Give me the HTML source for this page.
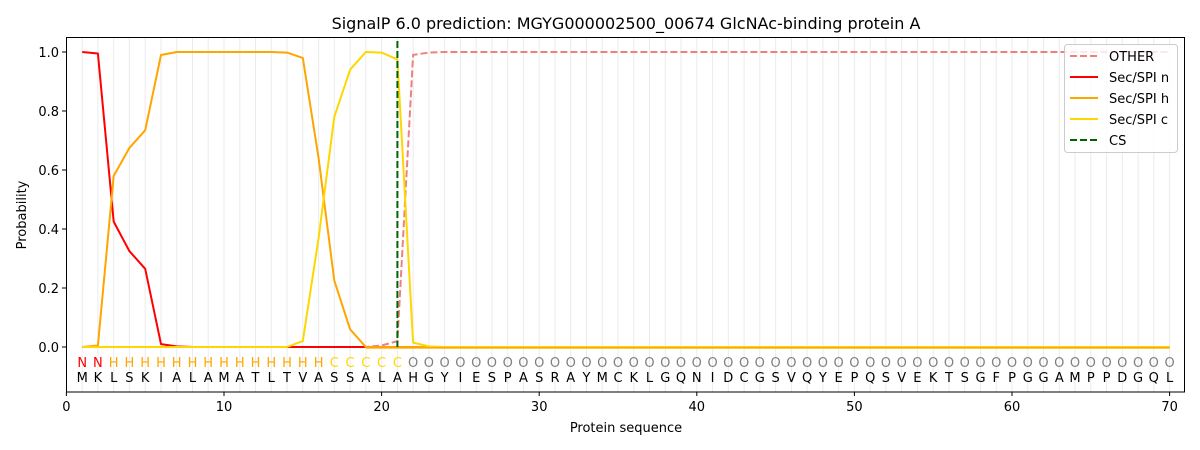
<!DOCTYPE html>
<html><head><meta charset="utf-8"><style>body{margin:0;background:#fff}svg{display:block;font-family:"DejaVu Sans","Liberation Sans",sans-serif}</style></head><body>
<svg width="1200" height="450" viewBox="0 0 1200 450" xmlns="http://www.w3.org/2000/svg">
<rect width="1200" height="450" fill="#fff"/>
<text x="626" y="29" font-size="16" text-anchor="middle">SignalP 6.0 prediction: MGYG000002500_00674 GlcNAc-binding protein A</text>
<g stroke="#ebebeb" stroke-width="1">
<path d="M82.2 38V392M97.9 38V392M113.7 38V392M129.4 38V392M145.2 38V392M161 38V392M176.7 38V392M192.5 38V392M208.2 38V392M224 38V392M239.8 38V392M255.5 38V392M271.3 38V392M287 38V392M302.8 38V392M318.6 38V392M334.3 38V392M350.1 38V392M365.8 38V392M381.6 38V392M397.4 38V392M413.1 38V392M428.9 38V392M444.6 38V392M460.4 38V392M476.2 38V392M491.9 38V392M507.7 38V392M523.4 38V392M539.2 38V392M555 38V392M570.7 38V392M586.5 38V392M602.2 38V392M618 38V392M633.8 38V392M649.5 38V392M665.3 38V392M681 38V392M696.8 38V392M712.6 38V392M728.3 38V392M744.1 38V392M759.8 38V392M775.6 38V392M791.4 38V392M807.1 38V392M822.9 38V392M838.6 38V392M854.4 38V392M870.2 38V392M885.9 38V392M901.7 38V392M917.4 38V392M933.2 38V392M949 38V392M964.7 38V392M980.5 38V392M996.2 38V392M1012 38V392M1027.8 38V392M1043.5 38V392M1059.3 38V392M1075 38V392M1090.8 38V392M1106.6 38V392M1122.3 38V392M1138.1 38V392M1153.8 38V392M1169.6 38V392"/>
</g>
<g fill="none" stroke-width="2" stroke-linejoin="round">
<polyline stroke="#f08080" stroke-dasharray="7,3" points="82.2,347 365.8,347 381.6,345.5 397.4,341.1 413.1,54.9 428.9,52.6 444.6,52 1169.6,52"/>
<polyline stroke="#ff0000" points="82.2,52 97.9,53.5 113.7,221.6 129.4,251.1 145.2,268.8 161,344.1 176.7,346.4 192.5,347 1169.6,347"/>
<polyline stroke="#ffa500" points="82.2,347 97.9,345.5 113.7,175.9 129.4,147.9 145.2,130.2 161,55 176.7,52 271.3,52 287,52.6 302.8,57.9 318.6,158.2 334.3,280.6 350.1,329.3 365.8,347 1169.6,347"/>
<polyline stroke="#ffd700" points="82.2,347 287,347 302.8,341.1 318.6,237.9 334.3,116.9 350.1,69.7 365.8,52 381.6,52.6 397.4,59.4 413.1,342.6 428.9,346.4 444.6,347 1169.6,347"/>
<line x1="365.8" y1="347.8" x2="1169.6" y2="347.8" stroke="#ffa500" stroke-width="1.6"/>
<line x1="397.4" y1="41" x2="397.4" y2="347" stroke="#006400" stroke-dasharray="7,3"/>
</g>
<g font-size="13" text-anchor="middle">
<text y="367"><tspan fill="#ff0000" x="82.2 97.9">NN</tspan><tspan fill="#ffa500" x="113.7 129.4 145.2 161 176.7 192.5 208.2 224 239.8 255.5 271.3 287 302.8 318.6">HHHHHHHHHHHHHH</tspan><tspan fill="#ffd700" x="334.3 350.1 365.8 381.6 397.4">CCCCC</tspan><tspan fill="#808080" x="413.1 428.9 444.6 460.4 476.2 491.9 507.7 523.4 539.2 555 570.7 586.5 602.2 618 633.8 649.5 665.3 681 696.8 712.6 728.3 744.1 759.8 775.6 791.4 807.1 822.9 838.6 854.4 870.2 885.9 901.7 917.4 933.2 949 964.7 980.5 996.2 1012 1027.8 1043.5 1059.3 1075 1090.8 1106.6 1122.3 1138.1 1153.8 1169.6">OOOOOOOOOOOOOOOOOOOOOOOOOOOOOOOOOOOOOOOOOOOOOOOOO</tspan></text>
<text y="382" x="82.2 97.9 113.7 129.4 145.2 161 176.7 192.5 208.2 224 239.8 255.5 271.3 287 302.8 318.6 334.3 350.1 365.8 381.6 397.4 413.1 428.9 444.6 460.4 476.2 491.9 507.7 523.4 539.2 555 570.7 586.5 602.2 618 633.8 649.5 665.3 681 696.8 712.6 728.3 744.1 759.8 775.6 791.4 807.1 822.9 838.6 854.4 870.2 885.9 901.7 917.4 933.2 949 964.7 980.5 996.2 1012 1027.8 1043.5 1059.3 1075 1090.8 1106.6 1122.3 1138.1 1153.8 1169.6">MKLSKIALAMATLTVASSALAHGYIESPASRAYMCKLGQNIDCGSVQYEPQSVEKTSGFPGGAMPPDGQL</text>
</g>
<rect x="66.5" y="37.5" width="1118" height="354.5" fill="none" stroke="#000" stroke-width="1"/>
<g stroke="#000"><path d="M66.4 392v4M224 392v4M381.6 392v4M539.2 392v4M696.8 392v4M854.4 392v4M1012 392v4M1169.6 392v4M66 347h-4M66 288h-4M66 229h-4M66 170h-4M66 111h-4M66 52h-4"/></g>
<g font-size="13" text-anchor="middle">
<text x="66.4" y="411">0</text><text x="224" y="411">10</text><text x="381.6" y="411">20</text><text x="539.2" y="411">30</text><text x="696.8" y="411">40</text><text x="854.4" y="411">50</text><text x="1012" y="411">60</text><text x="1169.6" y="411">70</text>
<text x="626" y="432">Protein sequence</text>
<text transform="translate(26,215) rotate(-90)">Probability</text>
</g>
<g font-size="13" text-anchor="end">
<text x="59" y="352">0.0</text><text x="59" y="293">0.2</text><text x="59" y="234">0.4</text><text x="59" y="175">0.6</text><text x="59" y="116">0.8</text><text x="59" y="57">1.0</text>
</g>
<rect x="1064.5" y="44.5" width="113" height="108" rx="3" fill="#fff" fill-opacity="0.8" stroke="#ccc"/>
<g stroke-width="2">
<line x1="1070" y1="56" x2="1098" y2="56" stroke="#f08080" stroke-dasharray="7,3"/>
<line x1="1070" y1="77" x2="1098" y2="77" stroke="#ff0000"/>
<line x1="1070" y1="98" x2="1098" y2="98" stroke="#ffa500"/>
<line x1="1070" y1="119" x2="1098" y2="119" stroke="#ffd700"/>
<line x1="1070" y1="140" x2="1098" y2="140" stroke="#006400" stroke-dasharray="7,3"/>
</g>
<g font-size="13">
<text x="1109" y="61">OTHER</text><text x="1109" y="82">Sec/SPI n</text><text x="1109" y="103">Sec/SPI h</text><text x="1109" y="124">Sec/SPI c</text><text x="1109" y="145">CS</text>
</g>
</svg>
</body></html>
